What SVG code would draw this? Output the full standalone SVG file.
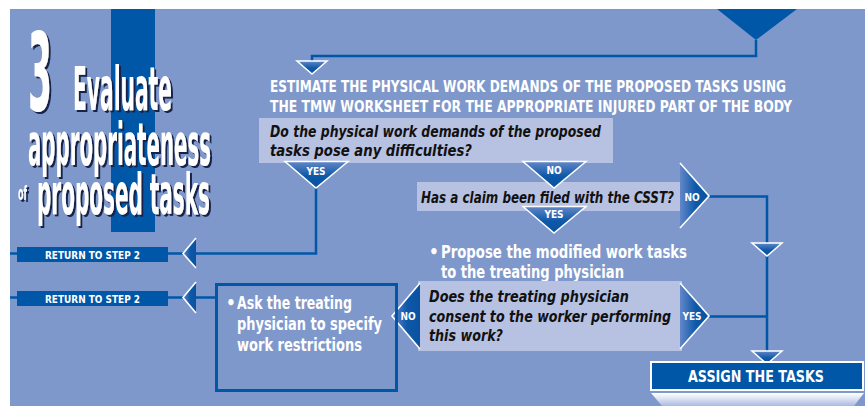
<svg xmlns="http://www.w3.org/2000/svg" width="865" height="406" viewBox="0 0 865 406">
<defs>
<linearGradient id="gDown" x1="0" y1="0" x2="0" y2="1">
<stop offset="0" stop-color="#6387c8"/>
<stop offset="0.55" stop-color="#0d58a8"/>
<stop offset="1" stop-color="#0a52a0"/>
</linearGradient>
<linearGradient id="gSide" x1="0" y1="0" x2="1" y2="0">
<stop offset="0" stop-color="#6387c8"/>
<stop offset="0.55" stop-color="#0d58a8"/>
<stop offset="1" stop-color="#0a52a0"/>
</linearGradient>
<linearGradient id="gStrip" x1="0" y1="0" x2="0" y2="1">
<stop offset="0" stop-color="#ffffff"/>
<stop offset="0.4" stop-color="#dfe5f4"/>
<stop offset="1" stop-color="#a9b9e0"/>
</linearGradient>
<filter id="shadow" x="-10%" y="-10%" width="130%" height="130%">
<feOffset in="SourceAlpha" dx="2" dy="2" result="off"/>
<feFlood flood-color="#14224a"/>
<feComposite in2="off" operator="in" result="sh"/>
<feMerge><feMergeNode in="sh"/><feMergeNode in="SourceGraphic"/></feMerge>
</filter>
<style>
.bg{fill:#7f98cb}
.dark{fill:#0057a8}
.qbox{fill:#b7c2e3}
.conn{fill:none;stroke:#0057a8;stroke-width:2.5}
.tri{stroke:#ffffff;stroke-width:1.5;stroke-linejoin:miter}
.edge{fill:none;stroke:#ffffff;stroke-width:1.6}
.title{font-family:"Liberation Sans Narrow","DejaVu Sans Condensed","Liberation Sans",sans-serif;font-weight:bold;fill:#ffffff}
.cond{font-family:"Liberation Sans Narrow","DejaVu Sans Condensed","Liberation Sans",sans-serif;font-weight:bold;fill:#ffffff}
.q{font-family:"Liberation Sans Narrow","DejaVu Sans Condensed","Liberation Sans",sans-serif;font-weight:bold;font-style:italic;fill:#111111;font-size:16.5px}
.lbl{font-family:"Liberation Sans Narrow","DejaVu Sans Condensed","Liberation Sans",sans-serif;font-weight:bold;fill:#ffffff;font-size:10px;text-anchor:middle}
.wt{font-family:"Liberation Sans Narrow","DejaVu Sans Condensed","Liberation Sans",sans-serif;font-weight:bold;fill:#ffffff;font-size:17px}
</style>
</defs>
<rect x="0" y="0" width="865" height="406" fill="#ffffff"/>
<rect class="bg" x="10" y="9" width="855" height="397"/>
<rect class="dark" x="111" y="9" width="44" height="223"/>
<polygon class="dark" points="717,9 797,9 756,40"/>

<g id="title" filter="url(#shadow)">
<text class="title" x="28" y="110" font-size="108" textLength="24" lengthAdjust="spacingAndGlyphs">3</text>
<text class="title" x="73" y="110" font-size="60" textLength="99" lengthAdjust="spacingAndGlyphs">Evaluate</text>
<text class="title" x="28" y="165" font-size="58" textLength="183" lengthAdjust="spacingAndGlyphs">appropriateness</text>
<text class="title" x="18" y="200" font-size="19" textLength="9" lengthAdjust="spacingAndGlyphs">of</text>
<text class="title" x="37" y="214" font-size="57" textLength="173" lengthAdjust="spacingAndGlyphs">proposed tasks</text>
</g>

<g id="connectors">
<polyline class="conn" points="756,40 756,56 312,56 312,61"/>
<polyline class="conn" points="316,188 316,253.5 196,253.5"/>
<line class="conn" x1="10" y1="253.5" x2="184" y2="253.5"/>
<line class="conn" x1="10" y1="297.5" x2="184" y2="297.5"/>
<line class="conn" x1="196" y1="297.5" x2="216" y2="297.5"/>
<polyline class="conn" points="709,196.5 767,196.5 767,351"/>
<line class="conn" x1="709" y1="316.5" x2="767" y2="316.5"/>
</g>

<g id="n-top-arrow">
<polygon class="tri" fill="url(#gDown)" points="297,61 327,61 312,74"/>
</g>

<g id="n-estimate">
<text class="cond" x="270" y="92" font-size="15.5" textLength="516" lengthAdjust="spacingAndGlyphs">ESTIMATE THE PHYSICAL WORK DEMANDS OF THE PROPOSED TASKS USING</text>
<text class="cond" x="270" y="112" font-size="15.5" textLength="522" lengthAdjust="spacingAndGlyphs">THE TMW WORKSHEET FOR THE APPROPRIATE INJURED PART OF THE BODY</text>
</g>

<g id="n-q1">
<rect class="qbox" x="259" y="118" width="354" height="45"/>
<text class="q" x="270" y="137" textLength="331" lengthAdjust="spacingAndGlyphs">Do the physical work demands of the proposed</text>
<text class="q" x="270" y="156" textLength="202" lengthAdjust="spacingAndGlyphs">tasks pose any difficulties?</text>
</g>

<g id="n-q1-yes">
<polygon class="tri" fill="url(#gDown)" points="285,161.5 348,161.5 316,188"/>
<text class="lbl" x="316" y="175">YES</text>
</g>

<g id="n-q2">
<rect class="qbox" x="417" y="182" width="265" height="29"/>
<text class="q" x="421" y="203" textLength="253" lengthAdjust="spacingAndGlyphs">Has a claim been filed with the CSST?</text>
</g>

<g id="n-q1-no">
<polygon class="tri" fill="url(#gDown)" points="523,161.5 586,161.5 554,188"/>
<text class="lbl" x="554" y="174">NO</text>
</g>

<g id="n-q2-yes">
<polygon class="tri" fill="url(#gDown)" points="523,206.5 586,206.5 554,233"/>
<text class="lbl" x="554" y="218">YES</text>
</g>

<g id="n-q2-no">
<polygon fill="url(#gSide)" points="680,163 680,228 709,196"/>
<polyline class="edge" points="680,163 709,196 680,228"/>
<text class="lbl" x="692" y="201">NO</text>
</g>

<g id="n-down1">
<polygon class="tri" fill="url(#gDown)" points="752,243 782,243 767,256"/>
</g>

<g id="n-return1">
<rect class="dark" x="17" y="247" width="151" height="15"/>
<text class="cond" x="45" y="258.5" font-size="10.5" textLength="95" lengthAdjust="spacingAndGlyphs">RETURN TO STEP  2</text>
<polygon fill="url(#gSide)" points="196,238 196,268 183,253.5"/>
<polyline class="edge" points="196,238 183,253.5 196,268"/>
</g>

<g id="n-return2">
<rect class="dark" x="17" y="291" width="151" height="15"/>
<text class="cond" x="45" y="302.5" font-size="10.5" textLength="95" lengthAdjust="spacingAndGlyphs">RETURN TO STEP  2</text>
<polygon fill="url(#gSide)" points="196,282 196,313 183,297.5"/>
<polyline class="edge" points="196,282 183,297.5 196,313"/>
</g>

<g id="n-propose">
<text class="wt" x="429" y="258">•</text>
<text class="wt" x="441" y="258" textLength="246" lengthAdjust="spacingAndGlyphs">Propose the modified work tasks</text>
<text class="wt" x="441" y="278" textLength="183" lengthAdjust="spacingAndGlyphs">to the treating physician</text>
</g>

<g id="n-q3">
<rect class="qbox" x="418" y="281" width="264" height="70"/>
<text class="q" x="429" y="302" textLength="200" lengthAdjust="spacingAndGlyphs">Does the treating physician</text>
<text class="q" x="429" y="322" textLength="242" lengthAdjust="spacingAndGlyphs">consent to the worker performing</text>
<text class="q" x="429" y="341" textLength="74" lengthAdjust="spacingAndGlyphs">this work?</text>
</g>

<g id="n-q3-no">
<polygon fill="url(#gSide)" points="420,283 420,349 392,316"/>
<polyline class="edge" points="420,283 392,316 420,349"/>
<text class="lbl" x="408" y="320">NO</text>
</g>

<g id="n-q3-yes">
<polygon fill="url(#gSide)" points="680,283 680,349 709,316"/>
<polyline class="edge" points="680,283 709,316 680,349"/>
<text class="lbl" x="692" y="320">YES</text>
</g>

<g id="n-ask">
<rect x="216.5" y="284.5" width="180" height="106" fill="none" stroke="#0057a8" stroke-width="3"/>
<text class="wt" x="226" y="309">•</text>
<text class="wt" x="237" y="309" textLength="115" lengthAdjust="spacingAndGlyphs">Ask the treating</text>
<text class="wt" x="237" y="330" textLength="145" lengthAdjust="spacingAndGlyphs">physician to specify</text>
<text class="wt" x="237" y="351" textLength="125" lengthAdjust="spacingAndGlyphs">work restrictions</text>
</g>

<g id="n-down2">
<polygon class="tri" fill="url(#gDown)" points="752,351 782,351 767,364"/>
</g>

<g id="n-assign">
<rect x="651" y="362" width="212" height="28" fill="#0057a8" stroke="#ffffff" stroke-width="2"/>
<text class="cond" x="688" y="382" font-size="15.5" textLength="136" lengthAdjust="spacingAndGlyphs">ASSIGN THE TASKS</text>
<polygon fill="url(#gStrip)" points="651,393 864,393 854,406 662,406"/>
</g>
</svg>
